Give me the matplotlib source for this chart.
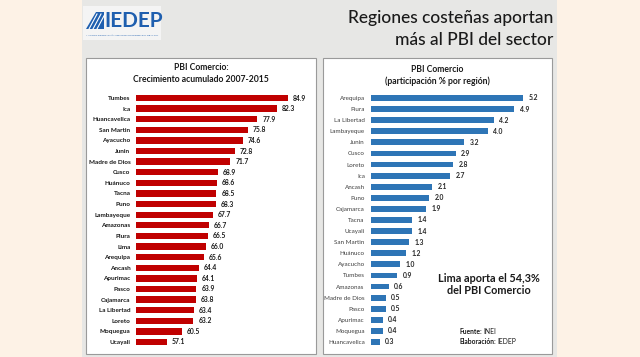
import matplotlib
matplotlib.use("Agg")
import matplotlib.pyplot as plt
from matplotlib.patches import Rectangle, Polygon

# ---------------- data ----------------
left_regions = ["Tumbes", "Ica", "Huancavelica", "San Martin", "Ayacucho", "Junin",
                "Madre de Dios", "Cusco", "Huánuco", "Tacna", "Puno", "Lambayeque",
                "Amazonas", "Piura", "Lima", "Arequipa", "Ancash", "Apurimac", "Pasco",
                "Cajamarca", "La Libertad", "Loreto", "Moquegua", "Ucayali"]
left_values = [84.9, 82.3, 77.9, 75.8, 74.6, 72.8, 71.7, 68.9, 68.6, 68.5, 68.3, 67.7,
               66.7, 66.5, 66.0, 65.6, 64.4, 64.1, 63.9, 63.8, 63.4, 63.2, 60.5, 57.1]

right_regions = ["Arequipa", "Piura", "La Libertad", "Lambayeque", "Junin", "Cusco",
                 "Loreto", "Ica", "Ancash", "Puno", "Cajamarca", "Tacna", "Ucayali",
                 "San Martin", "Huánuco", "Ayacucho", "Tumbes", "Amazonas",
                 "Madre de Dios", "Pasco", "Apurimac", "Moquegua", "Huancavelica"]
right_values = [5.2, 4.9, 4.2, 4.0, 3.2, 2.9, 2.8, 2.7, 2.1, 2.0, 1.9, 1.4, 1.4,
                1.3, 1.2, 1.0, 0.9, 0.6, 0.5, 0.5, 0.4, 0.4, 0.3]

title_lines = ["Regiones costeñas aportan", "más al PBI del sector"]
left_title = ["PBI Comercio:", "Crecimiento acumulado 2007-2015"]
right_title = ["PBI Comercio", "(participación % por región)"]
note_lines = ["Lima aporta el 54,3%", "del PBI Comercio"]
source_lines = [("Fuente:", "INEI"), ("Elaboración:", "IEDEP")]

# ---------------- layout ----------------
W, H = 640, 357
FONT = ["Lato", "DejaVu Sans"]
plt.rcParams["font.family"] = FONT

fig = plt.figure(figsize=(W / 100, H / 100), dpi=100, facecolor="#FDF2E6")


def fx(x):
    return x / W


def fy(y):
    return 1 - y / H


def rect(x0, y0, x1, y1, **kw):
    r = Rectangle((fx(x0), fy(y1)), (x1 - x0) / W, (y1 - y0) / H,
                  transform=fig.transFigure, **kw)
    fig.add_artist(r)


# slide background
rect(82, 0, 557, H, facecolor="#E7E7E5", edgecolor="none", zorder=0)
# panels
rect(86, 58, 316, 354, facecolor="white", edgecolor="#9A9A9A", linewidth=0.8, zorder=1)
rect(323, 58, 552, 354, facecolor="white", edgecolor="#9A9A9A", linewidth=0.8, zorder=1)

# logo
rect(83, 6, 161, 40, facecolor="#F4F4F4", edgecolor="none", zorder=1)
logo_poly = Polygon([(fx(86), fy(29)), (fx(96), fy(12)), (fx(104), fy(12)), (fx(104), fy(29))],
                    closed=True, transform=fig.transFigure, facecolor="#1F5FAF",
                    edgecolor="none", zorder=2)
fig.add_artist(logo_poly)
for k in range(3):
    fig.add_artist(plt.Line2D([fx(89 + 4 * k), fx(97 + 4 * k)], [fy(29), fy(14)],
                              transform=fig.transFigure, color="white", lw=0.8, zorder=3))
fig.text(fx(104), fy(21), "IEDEP", ha="left", va="center", fontsize=15,
         color="#1F5FAF", fontweight="bold", fontstretch="condensed", zorder=3)
fig.text(fx(86), fy(35), "INSTITUTO DE ECONOMÍA Y DESARROLLO EMPRESARIAL DE LA CCL",
         ha="left", va="center", fontsize=1.6, color="#1F5FAF", zorder=3)

# slide title
fig.text(fx(553), fy(18), title_lines[0], ha="right", va="center", fontsize=12.5,
         color="#1A1A1A", fontweight="medium")
fig.text(fx(553), fy(40), title_lines[1], ha="right", va="center", fontsize=12.5,
         color="#1A1A1A", fontweight="medium")

# panel titles
fig.text(fx(201), fy(68), left_title[0], ha="center", va="center", fontsize=6.2,
         fontweight="bold", color="#1A1A1A")
fig.text(fx(201), fy(80), left_title[1], ha="center", va="center", fontsize=6.2,
         fontweight="bold", color="#1A1A1A")
fig.text(fx(437), fy(69), right_title[0], ha="center", va="center", fontsize=6.2,
         fontweight="bold", color="#1A1A1A")
fig.text(fx(437), fy(81), right_title[1], ha="center", va="center", fontsize=6.2,
         fontweight="bold", color="#1A1A1A")

# ---------------- left chart ----------------
nL = len(left_values)
stepL = (342 - 98) / (nL - 1)
topL = 98 - stepL / 2
botL = 342 + stepL / 2
axL = fig.add_axes([fx(136), fy(botL), (316 - 136) / W, (botL - topL) / H], zorder=2)
axL.patch.set_alpha(0)
yL = list(range(nL))
axL.barh(yL, left_values, height=0.6, color="#C00000", left=0)
axL.set_xlim(50, 50 + 180 / 4.35)
axL.set_ylim(nL - 0.5, -0.5)
axL.set_yticks(yL)
axL.set_yticklabels(left_regions, fontsize=4.6, fontweight="bold", color="#1A1A1A")
axL.tick_params(axis="y", length=0, pad=4)
axL.set_xticks([])
for s in axL.spines.values():
    s.set_visible(False)
for yi, v in zip(yL, left_values):
    axL.annotate(f"{v:.1f}", (v, yi), xytext=(3.5, 0), textcoords="offset points",
                 ha="left", va="center", fontsize=4.9, fontweight="bold", color="#1A1A1A")

# ---------------- right chart ----------------
nR = len(right_values)
stepR = (342 - 98) / (nR - 1)
topR = 98 - stepR / 2
botR = 342 + stepR / 2
axR = fig.add_axes([fx(371), fy(botR), (552 - 371) / W, (botR - topR) / H], zorder=2)
axR.patch.set_alpha(0)
yR = list(range(nR))
axR.barh(yR, right_values, height=0.52, color="#2E75B6")
axR.set_xlim(0, 181 / 29.2)
axR.set_ylim(nR - 0.5, -0.5)
axR.set_yticks(yR)
axR.set_yticklabels(right_regions, fontsize=4.5, color="#404040")
axR.tick_params(axis="y", length=0, pad=4.5)
axR.set_xticks([])
for s in axR.spines.values():
    s.set_visible(False)
for yi, v in zip(yR, right_values):
    axR.annotate(f"{v:.1f}", (v, yi), xytext=(4, 0), textcoords="offset points",
                 ha="left", va="center", fontsize=4.9, fontweight="bold", color="#262626")

# note
fig.text(fx(489), fy(279), note_lines[0], ha="center", va="center", fontsize=7.8,
         fontweight="bold", color="#1A1A1A")
fig.text(fx(489), fy(291), note_lines[1], ha="center", va="center", fontsize=7.8,
         fontweight="bold", color="#1A1A1A")

# source (bold label followed by normal text)
renderer = fig.canvas.get_renderer()
for (lab, val), yy in zip(source_lines, [331, 342]):
    t = fig.text(fx(459), fy(yy), lab, ha="left", va="center", fontsize=4.9,
                 fontweight="bold", color="#1A1A1A")
    bb = t.get_window_extent(renderer=renderer)
    fig.text(bb.x1 / W + 2 / W, fy(yy), val, ha="left", va="center", fontsize=4.9,
             color="#1A1A1A")

fig.savefig("out.png", dpi=100, facecolor=fig.get_facecolor())
